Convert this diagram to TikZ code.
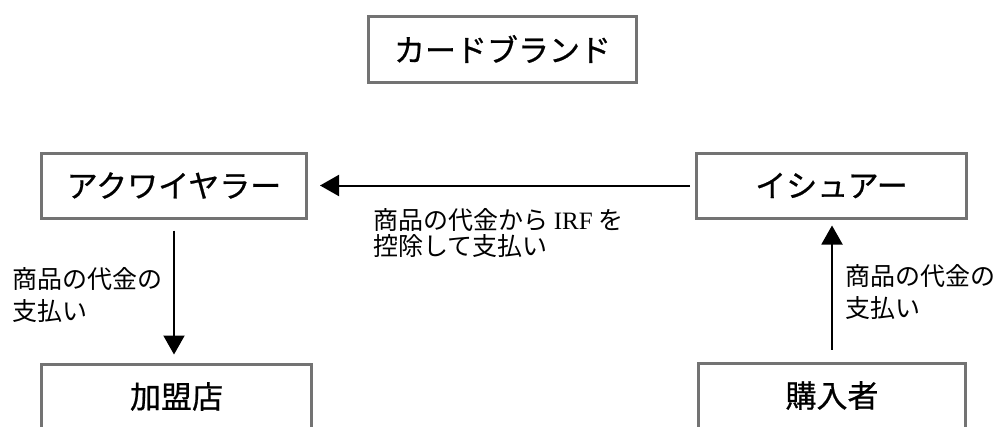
\documentclass[tikz,border=0pt]{standalone}
\usepackage{fontspec}
\setmainfont{Noto Sans CJK JP}
\newfontfamily\boxfont[FakeBold=0.7]{Noto Sans CJK JP}
\newfontfamily\latinserif{Liberation Serif}
\usetikzlibrary{arrows.meta}
\definecolor{boxgray}{RGB}{115,115,115}
\begin{document}
\begin{tikzpicture}[x=1pt,y=-1pt,
  box/.style={draw=boxgray, line width=3pt, inner sep=0pt,
    font=\boxfont\fontsize{31}{31}\selectfont, minimum height=65pt},
  flow/.style={line width=2pt, -{Triangle[length=19pt,width=21pt]}},
  lbl/.style={inner sep=0pt, align=left, anchor=north west}]
\useasboundingbox (0,0) rectangle (999,426);
\clip (0,0) rectangle (999,426);
\fill[white] (0,0) rectangle (999,426);

\node[box, minimum width=268pt, minimum height=66pt] (brand) at (502.5,49) {カードブランド};
\node[box, minimum width=265pt] (acq) at (174,185.5) {アクワイヤラー};
\node[box, minimum width=270pt] (iss) at (831.5,185.5) {イシュアー};
\node[box, minimum width=270pt] (shop) at (176.5,396.5) {加盟店};
\node[box, minimum width=267pt] (buyer) at (832,395.5) {購入者};

\draw[flow, shorten <=5pt, shorten >=12pt] (iss.west) -- (acq.east);
\draw[flow, shorten <=11pt, shorten >=8pt] (acq.south) -- (acq.south |- shop.north);
\draw[flow, shorten <=12pt, shorten >=6pt] (buyer.north) -- (buyer.north |- iss.south);

\node[lbl, font=\fontsize{25}{32}\selectfont] (lblL) at (12,267) {商品の代金の\\支払い};
\node[lbl, font=\fontsize{25}{32}\selectfont] (lblR) at (845,264) {商品の代金の\\支払い};
\node[lbl, font=\fontsize{25}{26}\selectfont] (lblM) at (373,208) {商品の代金から {\latinserif IRF} を\\控除して支払い};
\end{tikzpicture}
\end{document}
